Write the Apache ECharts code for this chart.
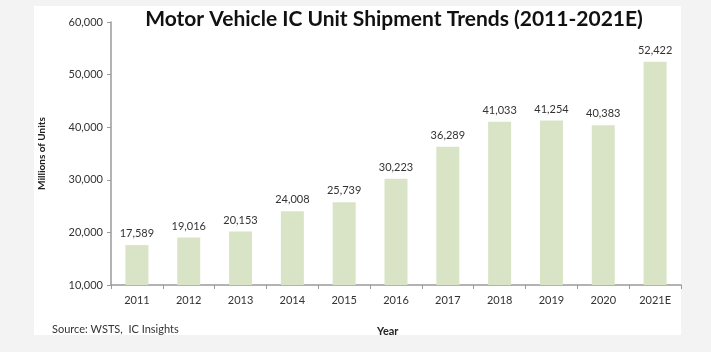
<!DOCTYPE html>
<html>
<head>
<meta charset="utf-8">
<script src="https://cdn.jsdelivr.net/npm/echarts@6/dist/echarts.min.js"></script>
<style>
  html, body { margin: 0; padding: 0; background: #f3f3f3; }
  #chart { width: 711px; height: 352px; }
</style>
</head>
<body>
<div id="chart"></div>
<script>
const years = ['2011', '2012', '2013', '2014', '2015', '2016', '2017', '2018', '2019', '2020', '2021E'];
const shipments = [17589, 19016, 20153, 24008, 25739, 30223, 36289, 41033, 41254, 40383, 52422];
const yTicks = [10000, 20000, 30000, 40000, 50000, 60000];

const chart = echarts.init(document.getElementById('chart'));
const font = 'Lato, "Liberation Sans", sans-serif';

const option = {
    backgroundColor: '#f3f3f3',
    textStyle: { fontFamily: font },
    animation: false,
    graphic: [
        { type: 'rect', z: -10, shape: { x: 34, y: 6, width: 647, height: 329 }, style: { fill: '#ffffff' } },
        { type: 'text', left: 52, top: 324, style: { text: 'Source: WSTS,  IC Insights', font: '11px ' + font, fill: '#333' } },
        { type: 'text', left: 377, top: 326, style: { text: 'Year', font: 'bold 11px ' + font, fill: '#222' } }
    ],
    title: {
        text: 'Motor Vehicle IC Unit Shipment Trends (2011-2021E)',
        left: 389,
        textAlign: 'center',
        top: 4,
        textStyle: { fontSize: 21, fontWeight: 'bold', color: '#111', fontFamily: font }
    },
    grid: { left: 111, right: 30, top: 22, bottom: 67 },
    xAxis: {
        type: 'category',
        data: years,
        axisLine: { lineStyle: { color: '#9a9a9a', width: 1.5 } },
        axisTick: { show: true, length: 4, lineStyle: { color: '#9a9a9a' } },
        axisLabel: { fontSize: 11, color: '#333', margin: 10 }
    },
    yAxis: {
        type: 'value',
        name: 'Millions of Units',
        nameLocation: 'middle',
        nameRotate: 90,
        nameGap: 64,
        nameTextStyle: { fontSize: 10, fontWeight: 'bold', color: '#222' },
        min: yTicks[0],
        max: yTicks[yTicks.length - 1],
        interval: 10000,
        splitLine: { show: false },
        axisLine: { show: true, lineStyle: { color: '#9a9a9a', width: 1.5 } },
        axisTick: { show: true, length: 4, lineStyle: { color: '#9a9a9a' } },
        axisLabel: {
            fontSize: 11,
            color: '#333',
            margin: 8,
            formatter: v => v.toLocaleString('en-US')
        }
    },
    series: [
        {
            type: 'bar',
            data: shipments,
            barWidth: 23,
            itemStyle: { color: '#d9e4c6' },
            label: {
                show: true,
                position: 'top',
                distance: 6,
                fontSize: 11,
                color: '#333',
                formatter: p => p.value.toLocaleString('en-US')
            }
        }
    ]
};

chart.setOption(option);
</script>
</body>
</html>
